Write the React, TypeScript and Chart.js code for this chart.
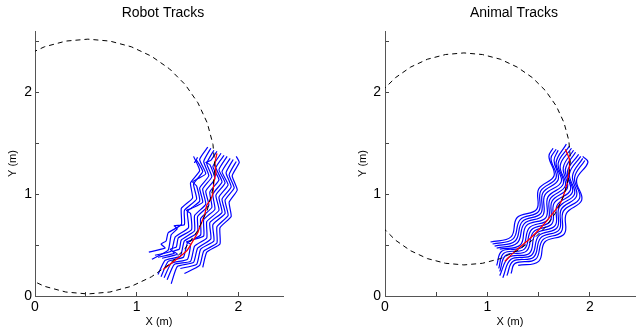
import React, { useEffect, useRef } from 'react';
import { Chart, registerables } from 'chart.js';

Chart.register(...registerables);

type Pt = [number, number];

const FONT = "'Liberation Sans', Arial, Helvetica, sans-serif";
const X_MAX = 2.44;
const Y_MAX = 2.6;
const TICK_VALUES = [0, 0.5, 1, 1.5, 2, 2.5];
const TICK_LABELS = ['0', '', '1', '', '2', ''];
const X_TITLE = 'X (m)';
const Y_TITLE = 'Y (m)';
const PANEL_TITLES = ['Robot Tracks', 'Animal Tracks'];

// ---------- Robot panel ----------
const robotCircle: Pt[] = [
  [-0.105, 2.353], [0.093, 2.445], [0.303, 2.501], [0.52, 2.52], [0.737, 2.501], [0.948, 2.445],
  [1.145, 2.353], [1.324, 2.228], [1.478, 2.074], [1.603, 1.895], [1.695, 1.698], [1.751, 1.487],
  [1.77, 1.27], [1.751, 1.053], [1.695, 0.843], [1.603, 0.645], [1.478, 0.467], [1.324, 0.313],
  [1.145, 0.188], [0.948, 0.095], [0.737, 0.039], [0.52, 0.02], [0.303, 0.039], [0.093, 0.095],
  [-0.105, 0.188],
];

const robotMean: Pt[] = [
  [1.26, 0.26], [1.34, 0.32], [1.43, 0.39], [1.49, 0.44], [1.53, 0.5], [1.6, 0.62], [1.63, 0.7],
  [1.67, 0.8], [1.69, 0.89], [1.73, 0.95], [1.75, 1.01], [1.76, 1.12], [1.78, 1.21], [1.77, 1.3],
  [1.79, 1.4],
];

const robotTracks: Pt[][] = [
  [[1.12, 0.43], [1.28, 0.47], [1.24, 0.51], [1.29, 0.54], [1.31, 0.62], [1.44, 0.7], [1.44, 0.86], [1.55, 0.96], [1.53, 1.11], [1.62, 1.23], [1.56, 1.37]],
  [[1.15, 0.36], [1.31, 0.45], [1.34, 0.6], [1.4, 0.66], [1.37, 0.69], [1.47, 0.7], [1.47, 0.84], [1.59, 0.95], [1.56, 1.1], [1.65, 1.22], [1.59, 1.33], [1.57, 1.31], [1.6, 1.36]],
  [[1.18, 0.4], [1.34, 0.44], [1.38, 0.58], [1.51, 0.67], [1.5, 0.83], [1.62, 0.93], [1.59, 1.08], [1.55, 1.12], [1.6, 1.15], [1.68, 1.2], [1.62, 1.34], [1.7, 1.46]],
  [[1.21, 0.38], [1.37, 0.42], [1.33, 0.46], [1.39, 0.48], [1.41, 0.57], [1.54, 0.65], [1.53, 0.81], [1.49, 0.84], [1.54, 0.86], [1.65, 0.92], [1.62, 1.06], [1.71, 1.18], [1.66, 1.32], [1.73, 1.45]],
  [[1.25, 0.37], [1.4, 0.41], [1.36, 0.44], [1.42, 0.46], [1.44, 0.55], [1.57, 0.64], [1.57, 0.79], [1.68, 0.9], [1.65, 1.05], [1.74, 1.17], [1.69, 1.3], [1.76, 1.43]],
  [[1.21, 0.21], [1.28, 0.35], [1.43, 0.39], [1.47, 0.54], [1.6, 0.62], [1.6, 0.78], [1.71, 0.89], [1.68, 1.03], [1.77, 1.15], [1.72, 1.29], [1.68, 1.31], [1.73, 1.33], [1.79, 1.42]],
  [[1.24, 0.19], [1.31, 0.34], [1.46, 0.38], [1.5, 0.52], [1.63, 0.6], [1.63, 0.76], [1.74, 0.87], [1.72, 1.02], [1.81, 1.14], [1.75, 1.27], [1.83, 1.4]],
  [[1.27, 0.18], [1.34, 0.32], [1.5, 0.36], [1.53, 0.51], [1.49, 0.53], [1.55, 0.55], [1.66, 0.59], [1.66, 0.75], [1.77, 0.85], [1.75, 1.0], [1.84, 1.12], [1.78, 1.26], [1.86, 1.38]],
  [[1.3, 0.16], [1.37, 0.31], [1.53, 0.34], [1.57, 0.49], [1.69, 0.57], [1.69, 0.73], [1.81, 0.84], [1.78, 0.99], [1.87, 1.11], [1.81, 1.24], [1.89, 1.37]],
  [[1.34, 0.12], [1.4, 0.29], [1.56, 0.33], [1.6, 0.47], [1.73, 0.56], [1.72, 0.72], [1.84, 0.82], [1.81, 0.97], [1.9, 1.09], [1.84, 1.22], [1.92, 1.35]],
  [[1.43, 0.27], [1.59, 0.31], [1.63, 0.46], [1.76, 0.54], [1.75, 0.7], [1.87, 0.81], [1.84, 0.95], [1.93, 1.07], [1.88, 1.21], [1.95, 1.34]],
  [[1.47, 0.22], [1.62, 0.3], [1.66, 0.44], [1.79, 0.52], [1.79, 0.68], [1.9, 0.79], [1.87, 0.94], [1.96, 1.06], [1.91, 1.19], [1.98, 1.32]],
  [[1.65, 0.28], [1.69, 0.43], [1.82, 0.51], [1.82, 0.67], [1.93, 0.78], [1.91, 0.92], [1.99, 1.04], [1.94, 1.18], [2.01, 1.31], [1.98, 1.37]],
];

// ---------- Animal panel ----------
const animalCircle: Pt[] = [
  [-0.027, 2.014], [0.102, 2.142], [0.25, 2.246], [0.414, 2.323], [0.59, 2.369], [0.77, 2.385],
  [0.951, 2.369], [1.126, 2.323], [1.29, 2.246], [1.439, 2.142], [1.567, 2.014], [1.671, 1.865],
  [1.747, 1.701], [1.794, 1.526], [1.81, 1.345], [1.794, 1.164], [1.747, 0.989], [1.671, 0.825],
  [1.567, 0.677], [1.439, 0.548], [1.29, 0.444], [1.126, 0.367], [0.951, 0.321], [0.77, 0.305],
  [0.59, 0.321], [0.414, 0.367], [0.25, 0.444], [0.102, 0.548], [-0.027, 0.677],
];

const animalMean: Pt[] = [
  [1.17, 0.34], [1.28, 0.45], [1.4, 0.55], [1.53, 0.68], [1.63, 0.8], [1.71, 0.91], [1.76, 1.04],
  [1.79, 1.17], [1.8, 1.34], [1.76, 1.44],
];

const animalTracks: Pt[][] = [
  [[1.03, 0.53], [1.23, 0.58], [1.29, 0.77], [1.48, 0.85], [1.5, 1.05], [1.65, 1.18], [1.6, 1.37], [1.64, 1.45]],
  [[1.05, 0.51], [1.25, 0.56], [1.32, 0.75], [1.5, 0.83], [1.52, 1.03], [1.67, 1.16], [1.62, 1.35], [1.67, 1.44]],
  [[1.07, 0.49], [1.27, 0.54], [1.34, 0.73], [1.52, 0.81], [1.54, 1.01], [1.69, 1.14], [1.65, 1.33], [1.69, 1.43]],
  [[1.09, 0.47], [1.29, 0.52], [1.36, 0.71], [1.54, 0.79], [1.56, 0.99], [1.72, 1.12], [1.67, 1.31], [1.77, 1.49]],
  [[1.12, 0.46], [1.32, 0.5], [1.38, 0.69], [1.57, 0.77], [1.59, 0.97], [1.74, 1.1], [1.69, 1.3], [1.8, 1.47]],
  [[1.09, 0.3], [1.14, 0.44], [1.34, 0.48], [1.41, 0.67], [1.59, 0.75], [1.61, 0.95], [1.76, 1.08], [1.71, 1.28], [1.82, 1.45]],
  [[1.11, 0.27], [1.16, 0.42], [1.36, 0.46], [1.43, 0.65], [1.61, 0.73], [1.63, 0.93], [1.78, 1.06], [1.74, 1.26], [1.84, 1.43]],
  [[1.12, 0.24], [1.18, 0.4], [1.38, 0.44], [1.45, 0.63], [1.63, 0.71], [1.65, 0.91], [1.81, 1.04], [1.76, 1.24], [1.86, 1.41]],
  [[1.12, 0.2], [1.21, 0.38], [1.41, 0.42], [1.47, 0.61], [1.66, 0.69], [1.68, 0.89], [1.83, 1.02], [1.78, 1.22], [1.89, 1.39]],
  [[1.15, 0.18], [1.23, 0.36], [1.43, 0.4], [1.5, 0.59], [1.68, 0.67], [1.7, 0.87], [1.85, 1.0], [1.8, 1.2], [1.91, 1.37]],
  [[1.19, 0.2], [1.25, 0.34], [1.45, 0.38], [1.52, 0.57], [1.7, 0.65], [1.72, 0.85], [1.87, 0.98], [1.83, 1.18], [1.93, 1.35]],
  [[1.23, 0.22], [1.27, 0.32], [1.47, 0.36], [1.54, 0.55], [1.72, 0.63], [1.74, 0.83], [1.9, 0.96], [1.85, 1.16], [1.95, 1.33]],
  [[1.3, 0.3], [1.5, 0.34], [1.56, 0.53], [1.75, 0.61], [1.77, 0.81], [1.92, 0.94], [1.87, 1.14], [1.98, 1.31], [1.93, 1.37]],
];

const toXY = (pts: Pt[]) => pts.map(([x, y]) => ({ x, y }));

const tickLabel = (v: number | string) => {
  const i = TICK_VALUES.indexOf(Number(v));
  return i >= 0 ? TICK_LABELS[i] : '';
};

// Panel title drawn centred over the axes box (slightly right of the data area, as in the original)
const panelTitlePlugin = {
  id: 'panelTitle',
  afterDraw(chart: any, _args: any, opts: any) {
    const { ctx, chartArea } = chart;
    ctx.save();
    ctx.font = `14px ${FONT}`;
    ctx.fillStyle = '#000';
    ctx.textAlign = 'center';
    ctx.textBaseline = 'middle';
    ctx.fillText(opts.text, (chartArea.left + chartArea.right) / 2 + opts.dx, opts.y);
    ctx.restore();
  },
};

interface PanelProps {
  title: string;
  titleDx: number;
  circle: Pt[];
  mean: Pt[];
  tracks: Pt[][];
  tension: number;
  left: number;
  width: number;
  yAxisWidth: number;
  padRight: number;
  yTitlePad: number;
  yTickPad: number;
}

function Panel(p: PanelProps) {
  const ref = useRef<HTMLCanvasElement>(null);
  useEffect(() => {
    if (!ref.current) return;
    const base = { showLine: true, pointRadius: 0, pointHoverRadius: 0, fill: false };
    const datasets: any[] = [
      { ...base, data: toXY(p.circle), borderColor: '#000000', borderWidth: 1, borderDash: [5, 4], tension: 0 },
      { ...base, data: toXY(p.mean), borderColor: '#ff0000', borderWidth: 1.3, tension: 0.2 },
      ...p.tracks.map((t) => ({ ...base, data: toXY(t), borderColor: '#0000ff', borderWidth: 1.2, tension: p.tension })),
    ];
    const setTicks = (scale: any) => {
      scale.ticks = TICK_VALUES.filter((v) => v >= scale.min && v <= scale.max + 1e-9).map((v) => ({ value: v }));
    };
    const chart = new Chart(ref.current, {
      type: 'scatter',
      data: { datasets },
      plugins: [panelTitlePlugin],
      options: {
        responsive: false,
        animation: false,
        devicePixelRatio: 1,
        layout: { padding: { left: 0, right: p.padRight, top: 31, bottom: 0 } },
        plugins: {
          legend: { display: false },
          tooltip: { enabled: false },
          title: { display: false },
          panelTitle: { text: p.title, dx: p.titleDx, y: 13.5 },
        },
        scales: {
          x: {
            type: 'linear',
            min: 0,
            max: X_MAX,
            afterBuildTicks: setTicks,
            afterFit: (s: any) => { s.height = 37; },
            ticks: { callback: tickLabel, color: '#000', font: { family: FONT, size: 14 }, padding: 7, maxRotation: 0, autoSkip: false },
            grid: { drawOnChartArea: false, drawTicks: true, tickLength: -4, color: '#444' },
            border: { display: true, color: '#555', width: 1 },
            title: { display: true, text: X_TITLE, color: '#000', font: { family: FONT, size: 11 }, padding: { top: 0, bottom: 4 } },
          },
          y: {
            type: 'linear',
            min: 0,
            max: Y_MAX,
            afterBuildTicks: setTicks,
            afterFit: (s: any) => { s.width = p.yAxisWidth; },
            ticks: { callback: tickLabel, color: '#000', font: { family: FONT, size: 14 }, padding: p.yTickPad, autoSkip: false },
            grid: { drawOnChartArea: false, drawTicks: true, tickLength: -4, color: '#444' },
            border: { display: true, color: '#555', width: 1 },
            title: { display: true, text: Y_TITLE, color: '#000', font: { family: FONT, size: 11 }, padding: { top: p.yTitlePad, bottom: 0 } },
          },
        },
      } as any,
    });
    return () => chart.destroy();
  }, []);
  return (
    <canvas
      ref={ref}
      width={p.width}
      height={333}
      style={{ position: 'absolute', left: p.left, top: 0, width: p.width, height: 333 }}
    />
  );
}

export default function App() {
  return (
    <div style={{ position: 'fixed', left: 0, top: 0, width: 637, height: 333, overflow: 'hidden', background: '#fff' }}>
      <Panel title={PANEL_TITLES[0]} titleDx={4} circle={robotCircle} mean={robotMean} tracks={robotTracks} tension={0.15}
        left={0} width={326} yAxisWidth={35} padRight={43} yTitlePad={6} yTickPad={7} />
      <Panel title={PANEL_TITLES[1]} titleDx={4} circle={animalCircle} mean={animalMean} tracks={animalTracks} tension={0.4}
        left={318} width={392} yAxisWidth={67} padRight={75} yTitlePad={38} yTickPad={8} />
    </div>
  );
}
